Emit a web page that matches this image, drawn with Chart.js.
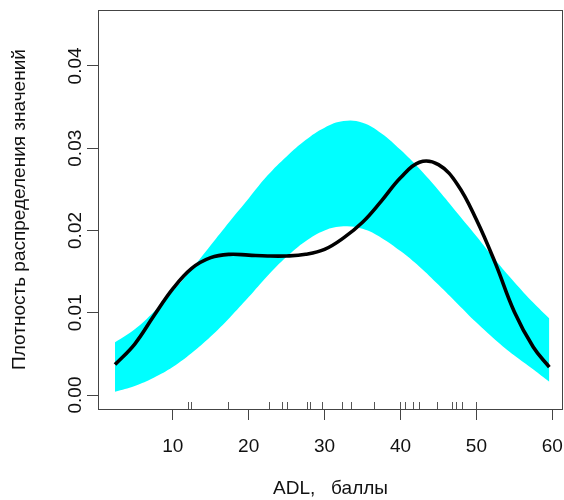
<!DOCTYPE html>
<html>
<head>
<meta charset="utf-8">
<script src="https://cdn.jsdelivr.net/npm/chart.js@4.4.1/dist/chart.umd.min.js"></script>
<style>
  html, body { margin: 0; padding: 0; background: #fff; }
  #wrap { width: 564px; height: 500px; }
</style>
</head>
<body>
<div id="wrap"><canvas id="c" width="564" height="500"></canvas></div>
<script>
// ---- data ----
const xs          = [2.4, 5, 7.5, 10, 12.5, 15, 17.5, 20, 22.5, 25, 27.5, 30, 32.5, 35, 37.5, 40, 42.5, 45, 47.5, 50, 52.5, 55, 57.5, 59.6];
const bandUpper   = [0.0064, 0.0080, 0.0101, 0.0126, 0.0153, 0.0182, 0.0211, 0.0239, 0.0267, 0.0290, 0.0310, 0.0325, 0.0333, 0.0331, 0.0318, 0.0298, 0.0275, 0.0249, 0.0221, 0.0193, 0.0164, 0.0137, 0.0112, 0.0093];
const bandLower   = [0.0004, 0.0011, 0.0021, 0.0034, 0.0051, 0.0071, 0.0094, 0.0119, 0.0145, 0.0168, 0.0187, 0.0200, 0.0205, 0.0202, 0.0191, 0.0175, 0.0156, 0.0134, 0.0111, 0.0088, 0.0067, 0.0048, 0.0031, 0.0016];
const density     = [0.0037, 0.0062, 0.0096, 0.0129, 0.0154, 0.0167, 0.0171, 0.0170, 0.0169, 0.0169, 0.0171, 0.0177, 0.0191, 0.0210, 0.0236, 0.0264, 0.0283, 0.0280, 0.0256, 0.0213, 0.0160, 0.0101, 0.0058, 0.0034];
const rugValues   = [11.97, 12.37, 17.33, 22.69, 24.44, 25.06, 27.74, 28.05, 29.7, 32.35, 33.5, 36.5, 39.9, 40.6, 41.7, 42.5, 44.8, 46.8, 47.3, 48.1, 49.96];
const xTickLabels = ['10', '20', '30', '40', '50', '60'];
const yTickLabels = ['0.00', '0.01', '0.02', '0.03', '0.04'];
const xTitle = 'ADL,   баллы';
const yTitle = 'Плотность распределения значений';

const FONT = "'Liberation Sans', Arial, sans-serif";
const pts = arr => xs.map((x, i) => ({ x: x, y: arr[i] }));

const decor = {
  id: 'decor',
  afterDatasetsDraw(chart) {
    const { ctx, chartArea: a, scales: { x, y } } = chart;
    ctx.save();
    // rug
    ctx.strokeStyle = '#555';
    ctx.lineWidth = 1;
    rugValues.forEach(v => {
      const px = Math.round(x.getPixelForValue(v)) + 0.5;
      ctx.beginPath();
      ctx.moveTo(px, a.bottom);
      ctx.lineTo(px, a.bottom - 7);
      ctx.stroke();
    });
    // box
    ctx.strokeStyle = '#444';
    ctx.strokeRect(a.left + 0.5, a.top + 0.5, a.right - a.left - 1, a.bottom - a.top);
    // y tick labels (rotated, R style)
    ctx.fillStyle = '#111';
    ctx.font = '19px ' + FONT;
    ctx.textAlign = 'center';
    ctx.textBaseline = 'alphabetic';
    yTickLabels.forEach(t => {
      const py = y.getPixelForValue(parseFloat(t));
      ctx.save();
      ctx.translate(81, py);
      ctx.rotate(-Math.PI / 2);
      ctx.fillText(t, 0, 0);
      ctx.restore();
    });
    ctx.restore();
  }
};

new Chart(document.getElementById('c'), {
  type: 'line',
  data: {
    datasets: [
      { label: 'density', data: pts(density), borderColor: '#000', borderWidth: 3.6,
        pointRadius: 0, fill: false, tension: 0.4, order: 0 },
      { label: 'upper', data: pts(bandUpper), borderWidth: 0, borderColor: 'rgba(0,0,0,0)',
        backgroundColor: '#00FFFF', pointRadius: 0, fill: '+1', tension: 0.4, order: 1 },
      { label: 'lower', data: pts(bandLower), borderWidth: 0, borderColor: 'rgba(0,0,0,0)',
        pointRadius: 0, fill: false, tension: 0.4, order: 2 }
    ]
  },
  options: {
    responsive: false,
    animation: false,
    events: [],
    layout: { padding: { top: 10, right: 1, left: 0, bottom: 0 } },
    plugins: { legend: { display: false }, tooltip: { enabled: false } },
    scales: {
      x: {
        type: 'linear', min: 0.16, max: 61.4,
        afterBuildTicks: s => { s.ticks = xTickLabels.map(t => ({ value: parseFloat(t) })); },
        afterFit: s => { s.height = 91; s.paddingLeft = 0; s.paddingRight = 0; },
        grid: { drawOnChartArea: false, drawTicks: true, tickLength: 11, color: '#444', lineWidth: 1 },
        border: { display: false },
        ticks: { color: '#111', font: { family: FONT, size: 19 }, padding: 15, maxRotation: 0, autoSkip: false,
                 callback: v => String(v) },
        title: { display: true, text: xTitle, color: '#111', font: { family: FONT, size: 19 }, padding: { top: 0, bottom: 0 } }
      },
      y: {
        type: 'linear', min: -0.0017, max: 0.0468,
        afterBuildTicks: s => { s.ticks = yTickLabels.map(t => ({ value: parseFloat(t) })); },
        afterFit: s => { s.width = 98; s.paddingTop = 0; s.paddingBottom = 0; },
        grid: { drawOnChartArea: false, drawTicks: true, tickLength: 11, color: '#444', lineWidth: 1 },
        border: { display: false },
        ticks: { display: false },
        title: { display: true, text: yTitle, color: '#111', font: { family: FONT, size: 19 }, padding: { top: 8, bottom: 0 } }
      }
    }
  },
  plugins: [decor]
});
</script>
</body>
</html>
